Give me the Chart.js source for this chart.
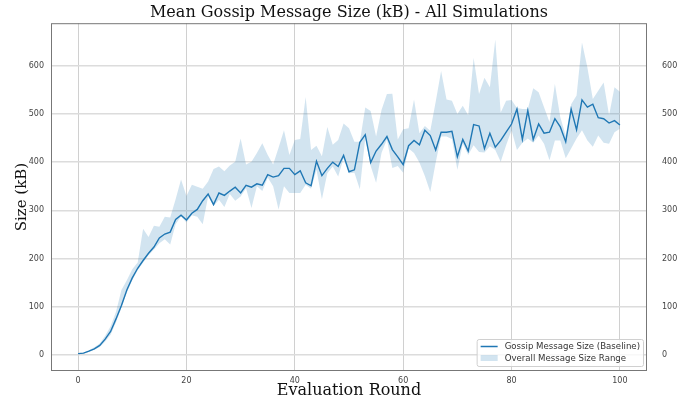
<!DOCTYPE html>
<html>
<head>
<meta charset="utf-8">
<script src="https://cdn.jsdelivr.net/npm/chart.js@4.4.0/dist/chart.umd.min.js"></script>
<style>
  html, body { margin: 0; padding: 0; background: #fff; }
  #wrap { width: 689px; height: 403px; }
</style>
</head>
<body>
<div id="wrap"><canvas id="chart" width="689" height="403"></canvas></div>
<script>
// evaluation rounds 0..100
const rounds = [];
for (let i = 0; i <= 100; i++) rounds.push(i);

// mean gossip message size (baseline), kB
const meanSize = [
  3, 4, 8, 13, 20, 33, 49, 75, 103, 135,
  160, 180, 196, 211, 224, 243, 251, 255, 281, 290,
  280, 294, 302, 320, 334, 312, 336, 331, 340, 348,
  336, 352, 348, 355, 352, 374, 369, 372, 387, 387,
  374, 382, 357, 351, 402, 372, 387, 400, 391, 414,
  380, 384, 441, 457, 399, 423, 437, 453, 426, 411,
  395, 434, 445, 436, 466, 455, 425, 462, 462, 464,
  411, 447, 423, 478, 475, 428, 460, 431, 445, 462,
  479, 510, 447, 507, 447, 479, 460, 462, 490, 473,
  442, 510, 467, 529, 514, 520, 492, 490, 481, 486,
  477
];

// overall range across simulations (max / min)
const rangeMax = [
  4, 5, 10, 16, 24, 40, 60, 90, 135, 155,
  178, 192, 262, 245, 268, 266, 287, 285, 323, 364,
  330, 353, 349, 345, 360, 386, 391, 381, 393, 401,
  449, 395, 401, 419, 439, 415, 395, 430, 466, 415,
  446, 448, 535, 425, 434, 412, 473, 436, 446, 480,
  470, 442, 442, 513, 506, 453, 508, 541, 542, 447,
  468, 470, 530, 460, 475, 465, 525, 589, 530, 527,
  500, 517, 497, 616, 541, 575, 555, 654, 503, 527,
  529, 512, 510, 510, 553, 545, 514, 483, 562, 493,
  455, 520, 538, 648, 596, 531, 548, 565, 497, 555,
  546
];
const rangeMin = [
  2, 3, 7, 11, 17, 28, 42, 68, 98, 130,
  155, 176, 192, 207, 219, 232, 240, 229, 271, 288,
  275, 290, 287, 271, 329, 309, 322, 307, 334, 320,
  329, 346, 305, 350, 340, 368, 350, 302, 350, 336,
  336, 336, 353, 345, 384, 323, 377, 391, 370, 408,
  377, 378, 344, 450, 392, 357, 419, 447, 388, 392,
  378, 428, 419, 399, 371, 338, 399, 453, 453, 448,
  384, 438, 415, 435, 421, 420, 433, 425, 401, 435,
  466, 425, 440, 449, 440, 455, 438, 404, 445, 445,
  408, 428, 449, 466, 445, 432, 455, 440, 438, 462,
  469
];

const xTicks = [0, 20, 40, 60, 80, 100];
const yTicks = [0, 100, 200, 300, 400, 500, 600];

const lineColor = '#1f77b4';
const bandColor = 'rgba(31, 119, 180, 0.2)';

const toPts = arr => arr.map((v, i) => ({ x: rounds[i], y: v }));

// legend drawn inside the plot, bottom right (like matplotlib loc='lower right')
const innerLegend = {
  id: 'innerLegend',
  afterDraw(chart) {
    const ctx = chart.ctx;
    const area = chart.chartArea;
    const labels = [chart.data.datasets[0].label, chart.data.datasets[1].label];
    ctx.save();
    ctx.font = '8.6px "DejaVu Sans"';
    const tw = Math.max(...labels.map(l => ctx.measureText(l).width));
    const w = tw + 31, h = 27;
    const x0 = area.right - 4 - w, y0 = area.bottom - 5 - h;
    ctx.fillStyle = 'rgba(255,255,255,0.8)';
    ctx.strokeStyle = '#d0d0d0';
    ctx.lineWidth = 1;
    ctx.beginPath();
    ctx.roundRect(x0 + 0.5, y0 + 0.5, w, h, 2);
    ctx.fill();
    ctx.stroke();
    // line sample
    ctx.strokeStyle = lineColor;
    ctx.lineWidth = 1.5;
    ctx.beginPath();
    ctx.moveTo(x0 + 4, y0 + 7.5);
    ctx.lineTo(x0 + 21, y0 + 7.5);
    ctx.stroke();
    // band sample
    ctx.fillStyle = bandColor;
    ctx.fillRect(x0 + 4, y0 + 16, 17, 6);
    ctx.fillStyle = '#333';
    ctx.textBaseline = 'middle';
    ctx.fillText(labels[0], x0 + 28, y0 + 7.5);
    ctx.fillText(labels[1], x0 + 28, y0 + 19.5);
    ctx.restore();
  }
};

// frame around the plot
const frame = {
  id: 'frame',
  afterDatasetsDraw(chart) {
    const a = chart.chartArea;
    const ctx = chart.ctx;
    ctx.save();
    ctx.strokeStyle = '#777';
    ctx.lineWidth = 1;
    ctx.strokeRect(a.left + 0.5, a.top + 0.5, a.right - a.left - 1, a.bottom - a.top - 1);
    ctx.restore();
  }
};

const tickFont = { family: 'DejaVu Sans', size: 8 };
const serif = 'DejaVu Serif';

new Chart(document.getElementById('chart'), {
  type: 'line',
  data: {
    datasets: [
      {
        label: 'Gossip Message Size (Baseline)',
        data: toPts(meanSize),
        borderColor: lineColor,
        borderWidth: 1.4,
        pointRadius: 0,
        fill: false,
        order: 0
      },
      {
        label: 'Overall Message Size Range',
        data: toPts(rangeMax),
        borderWidth: 0,
        borderColor: 'rgba(0,0,0,0)',
        backgroundColor: bandColor,
        pointRadius: 0,
        fill: '+1',
        order: 1
      },
      {
        label: 'min',
        data: toPts(rangeMin),
        borderWidth: 0,
        borderColor: 'rgba(0,0,0,0)',
        pointRadius: 0,
        fill: false,
        order: 2
      }
    ]
  },
  options: {
    responsive: false,
    animation: false,
    layout: { padding: { left: 0, right: 0, top: 0, bottom: 0 } },
    plugins: {
      legend: { display: false },
      tooltip: { enabled: false },
      title: {
        display: true,
        fullSize: false,
        text: 'Mean Gossip Message Size (kB) - All Simulations',
        font: { family: serif, size: 16, weight: 'normal' },
        color: '#111',
        padding: { top: 3, bottom: 1 }
      }
    },
    scales: {
      x: {
        type: 'linear',
        min: -5,
        max: 105,
        afterBuildTicks: s => { s.ticks = xTicks.map(v => ({ value: v })); },
        afterFit: s => { s.height = 32; },
        ticks: { font: tickFont, color: '#444', padding: 5 },
        grid: { color: '#d0d0d0', lineWidth: 1, drawTicks: false },
        border: { display: false },
        title: {
          display: true,
          text: 'Evaluation Round',
          font: { family: serif, size: 16 },
          color: '#111',
          padding: { top: 0, bottom: 3 }
        }
      },
      y: {
        position: 'left',
        min: -33,
        max: 688,
        afterBuildTicks: s => { s.ticks = yTicks.map(v => ({ value: v })); },
        afterFit: s => { s.width = 51; },
        ticks: { font: tickFont, color: '#444', padding: 7 },
        grid: { color: '#dcdcdc', lineWidth: 1.5, drawTicks: false },
        border: { display: false },
        title: {
          display: true,
          text: 'Size (kB)',
          font: { family: serif, size: 15 },
          color: '#111',
          padding: { top: 13, bottom: 0 }
        }
      },
      y2: {
        position: 'right',
        min: -33,
        max: 688,
        afterBuildTicks: s => { s.ticks = yTicks.map(v => ({ value: v })); },
        afterFit: s => { s.width = 42; },
        ticks: { font: tickFont, color: '#444', padding: 7 },
        grid: { display: false },
        border: { display: false }
      }
    }
  },
  plugins: [frame, innerLegend]
});
</script>
</body>
</html>
